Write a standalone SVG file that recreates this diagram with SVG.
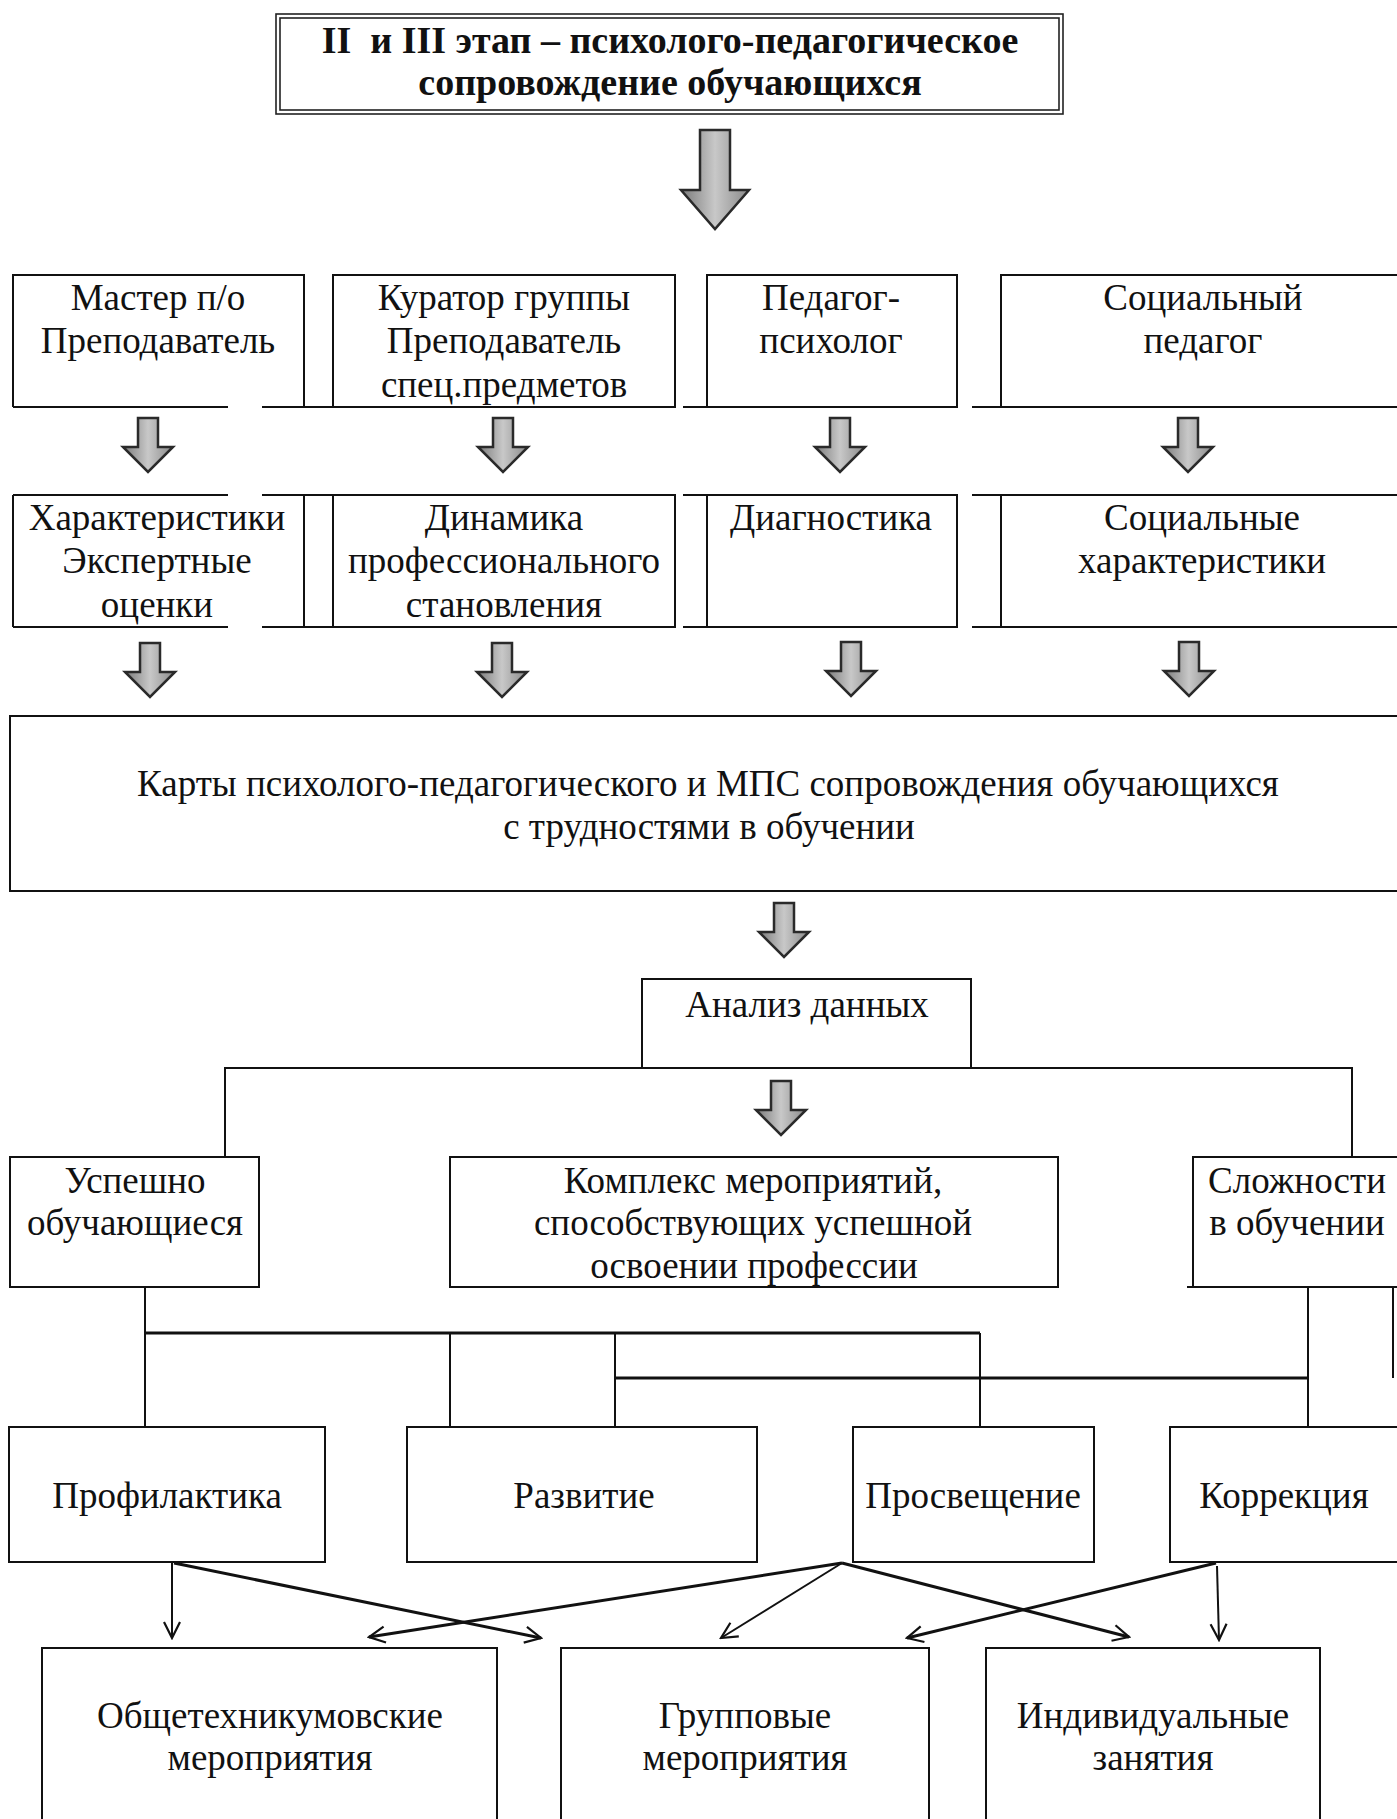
<svg xmlns="http://www.w3.org/2000/svg" width="1397" height="1819" viewBox="0 0 1397 1819">
<style>
  .t { font-family: "Liberation Serif", "Times New Roman", serif; font-size: 37px; fill: #111; text-anchor: middle; }
  .tb { font-family: "Liberation Serif", "Times New Roman", serif; font-size: 38px; font-weight: bold; fill: #111; text-anchor: middle; }
  .box { fill: #fff; stroke: #111; stroke-width: 2; }
  .ln { fill: none; stroke: #111; stroke-width: 2; }
  .lnt { fill: none; stroke: #111; stroke-width: 3; }
  .blk { fill: url(#gr); stroke: #2a2a2a; stroke-width: 2.5; stroke-linejoin: miter; }
</style>
<defs>
  <linearGradient id="gr" x1="0" y1="0" x2="1" y2="0">
    <stop offset="0" stop-color="#7a7a7a"/>
    <stop offset="0.5" stop-color="#c8c8c8"/>
    <stop offset="1" stop-color="#8a8a8a"/>
  </linearGradient>
  <path id="sa" d="M-10,0 H10 V29 H25 L0,54 L-25,29 H-10 Z"/>
  <marker id="op" viewBox="0 0 20 20" refX="18" refY="10" markerWidth="20" markerHeight="20" markerUnits="userSpaceOnUse" orient="auto">
    <path d="M2,2 L18,10 L2,18" fill="none" stroke="#111" stroke-width="2.2"/>
  </marker>
</defs>
<rect width="1397" height="1819" fill="#fff"/>

<g id="title">
  <rect x="276" y="14" width="787" height="100" fill="#fff" stroke="#222" stroke-width="1.6"/>
  <rect x="280" y="18" width="779" height="92" fill="none" stroke="#222" stroke-width="1.6"/>
  <text class="tb" x="670" y="53" xml:space="preserve">II  и III этап – психолого-педагогическое</text>
  <text class="tb" x="670" y="95">сопровождение обучающихся</text>
</g>

<g id="block-arrows">
  <path class="blk" d="M700,130 H730 V190 H749 L715,229 L681,190 H700 Z"/>
  <use href="#sa" class="blk" x="148" y="418"/>
  <use href="#sa" class="blk" x="503" y="418"/>
  <use href="#sa" class="blk" x="840" y="418"/>
  <use href="#sa" class="blk" x="1188" y="418"/>
  <use href="#sa" class="blk" x="150" y="643"/>
  <use href="#sa" class="blk" x="502" y="643"/>
  <use href="#sa" class="blk" x="851" y="642"/>
  <use href="#sa" class="blk" x="1189" y="642"/>
  <use href="#sa" class="blk" x="784" y="903"/>
  <use href="#sa" class="blk" x="781" y="1081"/>
</g>

<g id="row1">
  <g id="n-master">
    <rect x="13" y="275" width="291" height="132" fill="#fff"/>
    <path class="ln" d="M13,407 V275 H304 V407 M13,407 H228 M262,407 H333"/>
    <text class="t" x="158" y="310">Мастер п/о</text>
    <text class="t" x="158" y="353">Преподаватель</text>
  </g>
  <g id="n-kurator">
    <rect class="box" x="333" y="275" width="342" height="132"/>
    <text class="t" x="504" y="310">Куратор группы</text>
    <text class="t" x="504" y="353">Преподаватель</text>
    <text class="t" x="504" y="397">спец.предметов</text>
  </g>
  <g id="n-psych">
    <rect class="box" x="707" y="275" width="250" height="132"/>
    <path class="ln" d="M683,407 H707"/>
    <text class="t" x="831" y="310">Педагог-</text>
    <text class="t" x="831" y="353">психолог</text>
  </g>
  <g id="n-social">
    <rect class="box" x="1001" y="275" width="420" height="132"/>
    <path class="ln" d="M972,407 H1001"/>
    <text class="t" x="1203" y="310">Социальный</text>
    <text class="t" x="1203" y="353">педагог</text>
  </g>
</g>

<g id="row2">
  <g id="n-harakt">
    <rect x="13" y="495" width="291" height="132" fill="#fff"/>
    <path class="ln" d="M13,495 V627 M304,495 V627 M13,495 H228 M262,495 H333 M13,627 H228 M262,627 H333"/>
    <text class="t" x="157" y="530">Характеристики</text>
    <text class="t" x="157" y="573">Экспертные</text>
    <text class="t" x="157" y="617">оценки</text>
  </g>
  <g id="n-dinamika">
    <rect class="box" x="333" y="495" width="342" height="132"/>
    <text class="t" x="504" y="530">Динамика</text>
    <text class="t" x="504" y="573">профессионального</text>
    <text class="t" x="504" y="617">становления</text>
  </g>
  <g id="n-diag">
    <rect class="box" x="707" y="495" width="250" height="132"/>
    <path class="ln" d="M683,495 H707 M683,627 H707"/>
    <text class="t" x="831" y="530">Диагностика</text>
  </g>
  <g id="n-sockh">
    <rect class="box" x="1001" y="495" width="420" height="132"/>
    <path class="ln" d="M972,495 H1001 M972,627 H1001"/>
    <text class="t" x="1202" y="530">Социальные</text>
    <text class="t" x="1202" y="573">характеристики</text>
  </g>
</g>

<g id="n-karty">
  <rect class="box" x="10" y="716" width="1410" height="175" stroke-width="2.5"/>
  <text class="t" x="708" y="796">Карты психолого-педагогического и МПС сопровождения обучающихся</text>
  <text class="t" x="709" y="839">с трудностями в обучении</text>
</g>

<g id="connectors">
  <path class="ln" d="M225,1157 V1068 H1352 V1157"/>
  <path class="ln" d="M145,1287 V1427"/>
  <path class="lnt" d="M145,1333 H980"/>
  <path class="ln" d="M450,1333 V1427 M615,1333 V1427 M980,1333 V1427"/>
  <path class="lnt" d="M615,1378 H1308"/>
  <path class="ln" d="M1308,1287 V1427"/>
  <path class="ln" d="M1393,1287 V1378"/>
  <path class="ln" d="M1187,1287 H1193"/>
  <path class="ln" marker-end="url(#op)" d="M172,1563 V1638"/>
  <path class="lnt" marker-end="url(#op)" d="M174,1563 L541,1638"/>
  <path class="lnt" marker-end="url(#op)" d="M842,1563 L369,1637"/>
  <path class="ln" marker-end="url(#op)" d="M842,1563 L721,1638"/>
  <path class="lnt" marker-end="url(#op)" d="M842,1563 L1129,1637"/>
  <path class="lnt" marker-end="url(#op)" d="M1216,1563 L907,1638"/>
  <path class="ln" marker-end="url(#op)" d="M1217,1566 L1219,1640"/>
</g>

<g id="n-analiz">
  <rect class="box" x="642" y="979" width="329" height="89"/>
  <text class="t" x="807" y="1017">Анализ данных</text>
</g>

<g id="row3">
  <g id="n-uspeshno">
    <rect class="box" x="10" y="1157" width="249" height="130"/>
    <text class="t" x="135" y="1193">Успешно</text>
    <text class="t" x="135" y="1235">обучающиеся</text>
  </g>
  <g id="n-kompleks">
    <rect class="box" x="450" y="1157" width="608" height="130"/>
    <text class="t" x="753" y="1193">Комплекс мероприятий,</text>
    <text class="t" x="753" y="1235">способствующих успешной</text>
    <text class="t" x="754" y="1278">освоении профессии</text>
  </g>
  <g id="n-slozhnosti">
    <rect class="box" x="1193" y="1157" width="230" height="130"/>
    <text class="t" x="1297" y="1193">Сложности</text>
    <text class="t" x="1297" y="1235">в обучении</text>
  </g>
</g>

<g id="row4">
  <g id="n-profil">
    <rect class="box" x="9" y="1427" width="316" height="135"/>
    <text class="t" x="167" y="1508">Профилактика</text>
  </g>
  <g id="n-razvitie">
    <rect class="box" x="407" y="1427" width="350" height="135"/>
    <text class="t" x="584" y="1508">Развитие</text>
  </g>
  <g id="n-prosv">
    <rect class="box" x="853" y="1427" width="241" height="135"/>
    <text class="t" x="973" y="1508">Просвещение</text>
  </g>
  <g id="n-korr">
    <rect class="box" x="1170" y="1427" width="250" height="135"/>
    <text class="t" x="1284" y="1508">Коррекция</text>
  </g>
</g>

<g id="row5">
  <g id="n-obshe">
    <rect class="box" x="42" y="1648" width="455" height="200"/>
    <text class="t" x="270" y="1728">Общетехникумовские</text>
    <text class="t" x="270" y="1770">мероприятия</text>
  </g>
  <g id="n-grupp">
    <rect class="box" x="561" y="1648" width="368" height="200"/>
    <text class="t" x="745" y="1728">Групповые</text>
    <text class="t" x="745" y="1770">мероприятия</text>
  </g>
  <g id="n-indiv">
    <rect class="box" x="986" y="1648" width="334" height="200"/>
    <text class="t" x="1153" y="1728">Индивидуальные</text>
    <text class="t" x="1153" y="1770">занятия</text>
  </g>
</g>
</svg>
